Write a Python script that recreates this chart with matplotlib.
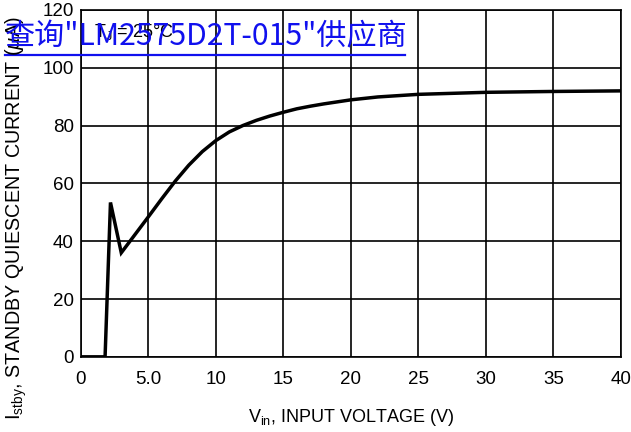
import matplotlib

matplotlib.use("Agg")
import matplotlib.pyplot as plt
from matplotlib.lines import Line2D

plt.rcParams["font.family"] = ["Liberation Sans", "DejaVu Sans"]
plt.rcParams["mathtext.fontset"] = "custom"
plt.rcParams["mathtext.rm"] = "Liberation Sans"

# standby quiescent current vs input voltage
VIN = [0, 1.8, 2.2, 3.0, 4, 5, 6, 7, 8, 9, 10, 11, 12, 13, 14, 15, 16, 17, 18, 19,
       20, 22, 25, 30, 35, 40]
ISTBY = [0, 0, 53.4, 36, 42.2, 48.4, 54.7, 60.8, 66.3, 71, 74.8, 77.8, 80.0, 81.8,
         83.3, 84.6, 85.8, 86.7, 87.5, 88.2, 88.9, 89.9, 90.8, 91.5, 91.8, 92]

X_TICKS = [0, 5, 10, 15, 20, 25, 30, 35, 40]
X_TICK_LABELS = ["0", "5.0", "10", "15", "20", "25", "30", "35", "40"]
Y_TICKS = [0, 20, 40, 60, 80, 100, 120]

fig = plt.figure(figsize=(6.31, 4.32), dpi=100)
ax = fig.add_axes((0.128, 0.174, 0.856, 0.803))

ax.plot(VIN, ISTBY, color="black", linewidth=2.5, solid_joinstyle="miter")
ax.set_xlim(0, 40)
ax.set_ylim(0, 120)
ax.set_xticks(X_TICKS)
ax.set_xticklabels(X_TICK_LABELS)
ax.set_yticks(Y_TICKS)
ax.tick_params(length=0, labelsize=13.5)
ax.tick_params(axis="x", pad=10)
ax.tick_params(axis="y", pad=5)
ax.grid(True, color="black", linewidth=1.2)
for sp in ax.spines.values():
    sp.set_linewidth(1.2)

ax.set_xlabel(r"V$_{\mathrm{in}}$, INPUT VOLTAGE (V)", fontsize=13, labelpad=14)
fig.text(0.026, 1 - 420 / 432, r"I$_{\mathrm{stby}}$, STANDBY QUIESCENT CURRENT ($\mu$A)",
         fontsize=14.2, rotation=90, ha="center", va="bottom")

ax.text(0.025, 0.965, r"T$_{\mathrm{J}}$ = 25°C", transform=ax.transAxes, fontsize=13,
        va="top", ha="left")

fig.text(0.008, 0.915, "查询\"LM2575D2T-015\"供应商", color="#1010ee", fontsize=21.7,
         family=["Noto Sans CJK SC", "DejaVu Sans"], va="center", ha="left")
fig.add_artist(Line2D([0.008, 0.642], [0.872, 0.872], transform=fig.transFigure,
                      color="#1010ee", linewidth=1.6))

fig.savefig("out.png", dpi=100)
